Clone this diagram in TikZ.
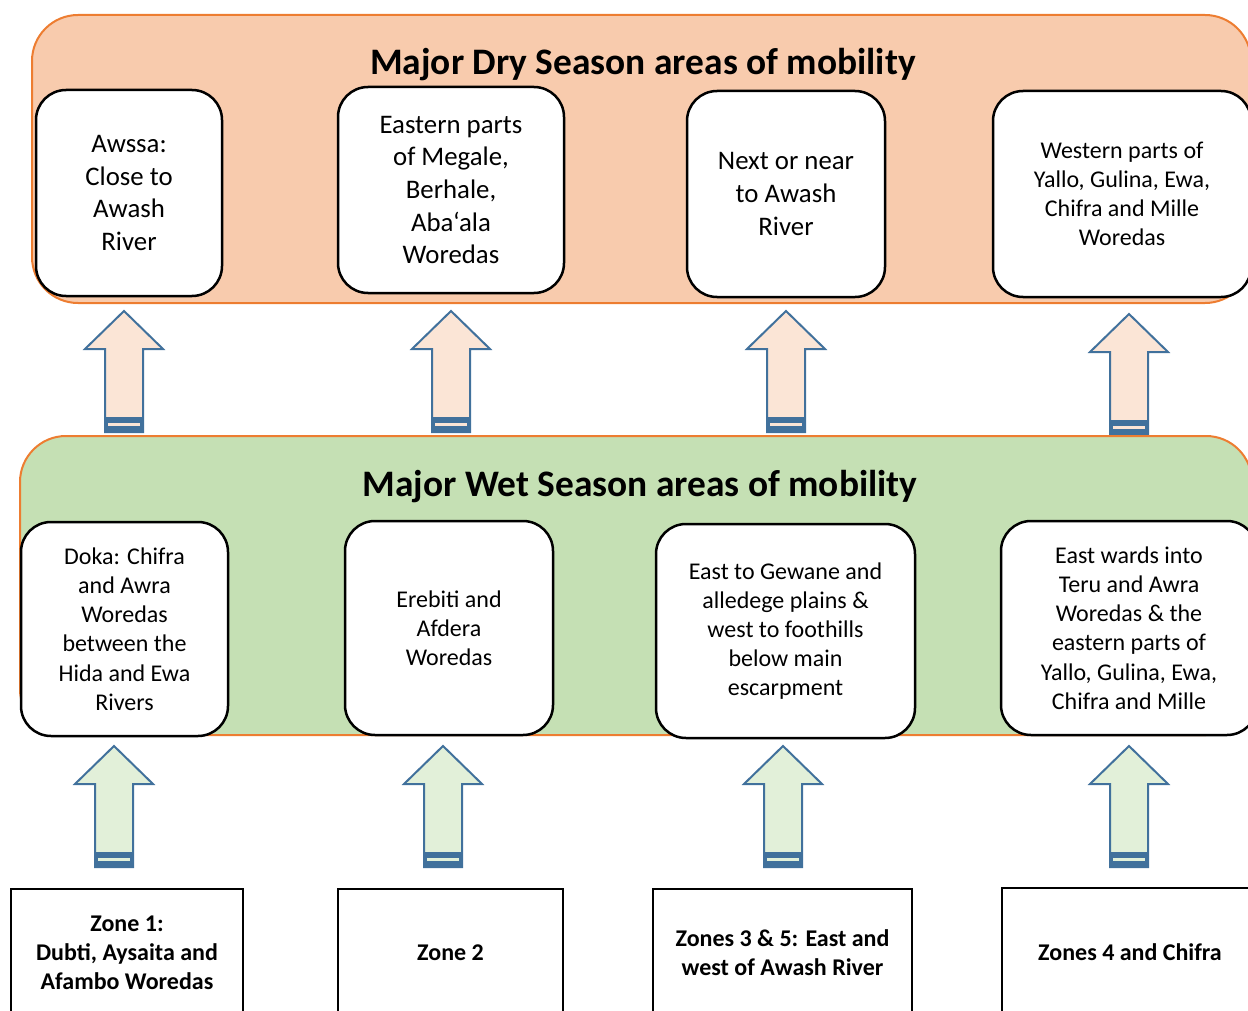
\documentclass[tikz,border=0pt]{standalone}
\usepackage{fontspec}
\setmainfont{Carlito}
\usepackage{tikz}
\usepackage{xcolor}
\definecolor{dryfill}{HTML}{F8CBAD}
\definecolor{wetfill}{HTML}{C5E0B4}
\definecolor{frameorange}{HTML}{ED7D31}
\definecolor{arrowblue}{HTML}{41719C}
\definecolor{dryarrow}{HTML}{FBE5D6}
\definecolor{wetarrow}{HTML}{E2F0D9}
\tikzset{season/.style={draw=frameorange,line width=1pt,rounded corners=23pt},
 heading/.style={font=\fontsize{18.7}{22}\selectfont\bfseries},
 drybox/.style={draw=black,fill=white,line width=1.25pt,rounded corners=15pt,
   align=center,inner sep=0pt,minimum height=103pt,
   font=\fontsize{13.4}{16.3}\selectfont},
 wetbox/.style={drybox,minimum height=107pt,font=\fontsize{12}{14.6}\selectfont},
 zonebox/.style={draw=black,line width=1.25pt,align=center,inner sep=0pt,
   minimum height=64pt,font=\fontsize{12}{14.6}\selectfont\bfseries},
 pics/blockarrow/.style={code={
   \draw[arrowblue,line width=1pt,fill=#1] (-19,121) -- (-19,38) -- (-39,38)
     -- (0,0) -- (39,38) -- (19,38) -- (19,121) -- cycle;
   \fill[arrowblue] (-19.5,106) rectangle (19.5,122);
   \draw[#1,line width=1.2pt] (-16,113.5) -- (16,113.5);
 }},
 }

\begin{document}
\begin{tikzpicture}[x=0.5pt,y=-0.5pt]
        \clip (0,0) rectangle (1248,1011);
        % dry season
        \draw[season,fill=dryfill] (32,15) rectangle (1251,303);
        \node[heading] (drytitle) at (643,65) {Major Dry Season areas of mobility};
        \node[drybox,minimum width=93pt] (d1) at (129,193) {Awssa:\\Close to\\Awash\\River};
        \node[drybox,minimum width=113pt] (d2) at (451,190) {Eastern parts\\of Megale,\\Berhale,\\Aba‘ala\\Woredas};
        \node[drybox,minimum width=99pt] (d3) at (786,194) {Next or near\\to Awash\\River};
        \node[drybox,minimum width=129pt,font=\fontsize{12}{14.6}\selectfont] (d4) at (1122,194) {Western parts of\\Yallo, Gulina, Ewa,\\Chifra and Mille\\Woredas};
        \foreach \x/\y in {124/311, 451/311, 786/311, 1129/314}
            \pic at (\x,\y) {blockarrow=dryarrow};
        % wet season
        \draw[season,fill=wetfill] (20,436) rectangle (1252,735);
        \node[heading] (wettitle) at (640,487) {Major Wet Season areas of mobility};
        \node[wetbox,minimum width=103.5pt] (w1) at (124.5,629) {Doka: Chifra\\and Awra\\Woredas\\between the\\Hida and Ewa\\Rivers};
        \node[wetbox,minimum width=104pt] (w2) at (449,628) {Erebiti and\\Afdera\\Woredas};
        \node[wetbox,minimum width=129.5pt] (w3) at (785.5,631) {East to Gewane and\\alledege plains \&\\west to foothills\\below main\\escarpment};
        \node[wetbox,minimum width=128pt] (w4) at (1129,628) {East wards into\\Teru and Awra\\Woredas \& the\\eastern parts of\\Yallo, Gulina, Ewa,\\Chifra and Mille};
        \foreach \x in {114, 443, 783, 1129}
            \pic at (\x,746) {blockarrow=wetarrow};
        % zones
        \node[zonebox,minimum width=116pt] (z1) at (127,953) {Zone 1:\\Dubti, Aysaita and\\Afambo Woredas};
        \node[zonebox,minimum width=112.5pt] (z2) at (450.5,953) {Zone 2};
        \node[zonebox,minimum width=129.5pt] (z3) at (782.5,953) {Zones 3 \& 5: East and\\west of Awash River};
        \node[zonebox,minimum width=128pt] (z4) at (1130,952) {Zones 4 and Chifra};
    \end{tikzpicture}
\end{document}
